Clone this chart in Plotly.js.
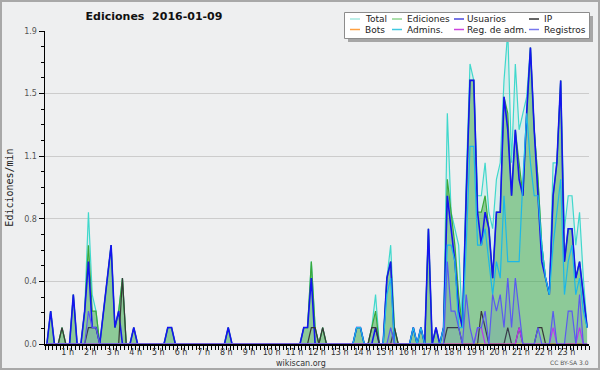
<!DOCTYPE html>
<html><head><meta charset="utf-8">
<script src="https://cdn.plot.ly/plotly-3.0.1.min.js"></script>
<style>html,body{margin:0;padding:0;background:#eeeff0}</style>
</head><body><div id="chart" style="width:600px;height:370px"></div>
<script>
// 10-minute bins, values in edits per minute (one row = one hour)
const total = [
0,0.2,0,0,0.1,0,  0,0.3,0,0,0.2,0.8,  0.3,0.2,0,0.2,0.4,0.6,  0.1,0.2,0.4,0,0,0.1,
0,0,0,0,0,0,  0,0,0.1,0.1,0,0,  0,0,0,0,0,0,  0,0,0,0,0,0,
0.1,0,0,0,0,0,  0,0,0,0,0,0,  0,0,0,0,0,0,  0,0,0.1,0.1,0.5,0.1,
0,0.1,0,0,0,0,  0,0,0,0,0.1,0.1,  0,0,0.1,0.3,0,0,  0.4,0.6,0.1,0,0,0,
0,0.1,0,0.1,0,0.7,  0,0.1,0,0.1,1.4,0.8,  0.7,0.6,0.1,1.0,1.7,1.6,  0.9,0.9,1.1,0.8,0.7,1.0,
1.1,1.6,1.9,1.1,1.7,1.3,  1.4,1.5,1.8,1.3,1.0,0.6,  0.4,0.3,1.1,1.1,1.6,0.7,  0.9,0.9,0.6,0.8,0.4,0.1
];
const ediciones = [
0,0.2,0,0,0.1,0,  0,0.3,0,0,0.2,0.6,  0.2,0.2,0,0.2,0.4,0.6,  0.1,0.2,0.4,0,0,0.1,
0,0,0,0,0,0,  0,0,0.1,0.1,0,0,  0,0,0,0,0,0,  0,0,0,0,0,0,
0.1,0,0,0,0,0,  0,0,0,0,0,0,  0,0,0,0,0,0,  0,0,0.1,0.1,0.5,0.1,
0,0.1,0,0,0,0,  0,0,0,0,0.1,0.1,  0,0,0.1,0.2,0,0,  0.4,0.5,0.1,0,0,0,
0,0.1,0,0.1,0,0.7,  0,0.1,0,0.1,1.0,0.8,  0.6,0.3,0.1,0.9,1.6,1.6,  0.8,0.8,0.9,0.7,0.4,0.8,
0.8,1.5,1.4,0.9,1.3,1.1,  0.9,1.4,1.8,1.3,1.0,0.6,  0.4,0.3,0.9,1.1,1.6,0.5,  0.7,0.7,0.4,0.5,0.3,0.1
];
const usuarios = [
0,0.2,0,0,0,0,  0,0.3,0,0,0.2,0.5,  0.1,0.1,0,0.2,0.4,0.6,  0.1,0.2,0,0,0,0.1,
0,0,0,0,0,0,  0,0,0.1,0.1,0,0,  0,0,0,0,0,0,  0,0,0,0,0,0,
0.1,0,0,0,0,0,  0,0,0,0,0,0,  0,0,0,0,0,0,  0,0,0.1,0.1,0.4,0,
0,0,0,0,0,0,  0,0,0,0,0.1,0.1,  0,0,0,0.1,0,0,  0.4,0.5,0,0,0,0,
0,0.1,0,0.1,0,0.7,  0,0.1,0,0.1,0.9,0.7,  0.5,0.2,0.1,0.9,1.6,1.6,  0.8,0.6,0.8,0.7,0.4,0.8,
0.8,1.5,1.3,0.9,1.3,1.0,  0.9,1.4,1.8,1.3,0.9,0.5,  0.4,0.3,0.9,1.1,1.6,0.5,  0.7,0.7,0.4,0.5,0.3,0.1
];
const ip = [
0,0,0,0,0.1,0,  0,0,0,0,0,0.1,  0.1,0.1,0,0,0,0,  0,0,0.4,0,0,0,
0,0,0,0,0,0,  0,0,0,0,0,0,  0,0,0,0,0,0,  0,0,0,0,0,0,
0,0,0,0,0,0,  0,0,0,0,0,0,  0,0,0,0,0,0,  0,0,0,0,0.1,0.1,
0,0.1,0,0,0,0,  0,0,0,0,0,0,  0,0,0.1,0.1,0,0,  0,0,0.1,0,0,0,
0,0,0,0,0,0,  0,0,0,0,0.1,0.1,  0.1,0.1,0,0,0,0,  0,0.2,0.1,0,0,0,
0,0,0.1,0,0,0.1,  0,0,0,0,0.1,0.1,  0,0,0,0,0,0,  0,0,0,0,0,0
];
const bots = [
0,0,0,0,0,0,  0,0,0,0,0,0,  0,0,0,0,0,0,  0,0,0,0,0,0,
0,0,0,0,0,0,  0,0,0,0,0,0,  0,0,0,0,0,0,  0,0,0,0,0,0,
0,0,0,0,0,0,  0,0,0,0,0,0,  0,0,0,0,0,0,  0,0,0,0,0,0,
0,0,0,0,0,0,  0,0,0,0,0,0,  0,0,0,0,0,0,  0,0,0,0,0,0,
0,0,0,0,0,0,  0,0,0,0,0,0,  0,0,0,0,0,0,  0,0,0,0,0,0,
0,0,0,0,0,0,  0,0,0,0,0,0,  0,0,0,0,0,0,  0,0,0,0,0,0
];
const admins = [
0,0,0,0,0,0,  0,0,0,0,0,0,  0,0,0,0,0,0,  0,0,0,0,0,0,
0,0,0,0,0,0,  0,0,0,0,0,0,  0,0,0,0,0,0,  0,0,0,0,0,0,
0,0,0,0,0,0,  0,0,0,0,0,0,  0,0,0,0,0,0,  0,0,0,0,0,0,
0,0,0,0,0,0,  0,0,0,0,0.1,0.1,  0,0,0,0,0,0,  0.3,0.4,0,0,0,0,
0,0.1,0,0.1,0,0,  0,0,0,0.1,0.6,0.6,  0.5,0.1,0.1,0.6,1.2,1.2,  0.6,0.6,0.7,0.5,0.3,0.5,
0.4,0.9,0.5,0.5,0.5,0.5,  1.0,1.4,1.1,0.9,0.9,0.6,  0.4,0.3,0.6,0.8,1.0,0.3,  0.5,0.6,0.3,0.4,0.2,0.1
];
const regAdm = [
0,0,0,0,0,0,  0,0,0,0,0,0,  0,0,0,0,0,0,  0,0,0,0,0,0,
0,0,0,0,0,0,  0,0,0,0,0,0,  0,0,0,0,0,0,  0,0,0,0,0,0,
0,0,0,0,0,0,  0,0,0,0,0,0,  0,0,0,0,0,0,  0,0,0,0,0,0,
0,0,0,0,0,0,  0,0,0,0,0,0,  0,0,0,0,0,0,  0,0,0,0,0,0,
0,0,0,0,0,0,  0,0,0,0,0,0,  0,0,0,0,0,0,  0.1,0.1,0,0,0,0,
0,0,0,0,0,0.1,  0,0,0,0,0,0,  0,0,0.1,0,0,0,  0,0,0,0.1,0,0
];
const registros = [
0,0,0,0,0,0,  0,0,0,0,0,0.2,  0.1,0.1,0,0,0,0,  0,0,0,0,0,0,
0,0,0,0,0,0,  0,0,0,0,0,0,  0,0,0,0,0,0,  0,0,0,0,0,0,
0,0,0,0,0,0,  0,0,0,0,0,0,  0,0,0,0,0,0,  0,0,0,0,0,0,
0,0,0,0,0,0,  0,0,0,0,0,0,  0,0,0,0,0,0,  0,0.1,0,0,0,0,
0,0,0,0,0,0,  0,0,0,0,0.5,0.2,  0.2,0.1,0,0.3,0.1,0,  0.1,0.1,0.2,0,0.3,0.2,
0.3,0.1,0.4,0.1,0.4,0.2,  0,0,0,0,0.1,0,  0,0,0.2,0,0,0,  0.2,0.2,0,0.3,0,0
];
const seriesNames = ['Total','Ediciones','Usuarios','IP','Bots','Admins.','Reg. de adm.','Registros'];
const hourLabels = ['1 h','2 h','3 h','4 h','5 h','6 h','7 h','8 h','9 h','10 h','11 h','12 h',
  '13 h','14 h','15 h','16 h','17 h','18 h','19 h','20 h','21 h','22 h','23 h'];
const yTickVals = [0, 0.38, 0.76, 1.14, 1.52, 1.9];
const yTickText = ['0.0','0.4','0.8','1.1','1.5','1.9'];

// bin centres in minutes since midnight
const minutes = total.map((_, k) => k * 10 + 5);

const W = 600, H = 370, L = 45, R = 11, T = 31, B = 26;
const PX = px => (px - L) / (W - L - R);
const PY = py => (H - B - py) / (H - T - B);

const lineColors = ['#40d8cc','#3aa83a','#1414f0','#383838','#ff9933','#1cb8e8','#cc33ee','#5a5af0'];
const legendColors = ['#a6e8e0','#8fd48f','#4848dd','#333333','#ffa040','#40c8e0','#cc44dd','#7878ee'];
const fills = {
  'Total': 'rgba(64,224,208,0.13)',
  'Ediciones': 'rgba(50,160,50,0.45)',
  'Registros': 'rgba(70,90,220,0.12)'
};
const widths = {'Usuarios': 1.6};
const ys = [total, ediciones, usuarios, ip, bots, admins, regAdm, registros];

const data = seriesNames.map((n, i) => {
  const t = {
    type: 'scatter', mode: 'lines', name: n, x: minutes, y: ys[i],
    line: {color: lineColors[i], width: widths[n] || 1.2},
    showlegend: false, hoverinfo: 'skip'
  };
  if (fills[n]) { t.fill = 'tozeroy'; t.fillcolor = fills[n]; }
  return t;
});

const minorY = [];
for (let v = 0.095; v < 1.9; v += 0.095) {
  if (!yTickVals.some(t => Math.abs(t - v) < 1e-6)) minorY.push(+v.toFixed(3));
}

const shapes = [
  // outer frame
  {type:'rect', xref:'paper', yref:'paper', x0:PX(1), x1:PX(599), y0:PY(369), y1:PY(1),
   line:{color:'#a8a8a8', width:2}, fillcolor:'rgba(0,0,0,0)', layer:'above'},
  // legend shadow + box
  {type:'rect', xref:'paper', yref:'paper', x0:PX(348), x1:PX(593), y0:PY(42), y1:PY(16),
   line:{width:0}, fillcolor:'#a6a6a6', layer:'above'},
  {type:'rect', xref:'paper', yref:'paper', x0:PX(344.5), x1:PX(589.5), y0:PY(38.5), y1:PY(12.5),
   line:{color:'#8c8c8c', width:1}, fillcolor:'#ffffff', layer:'above'}
];
const annotations = [
  {text:'wikiscan.org', xref:'paper', yref:'paper', x:PX(300.5), y:PY(363), showarrow:false,
   xanchor:'center', yanchor:'middle', borderpad:0, font:{family:'DejaVu Sans', size:8, color:'#333'}},
  {text:'CC BY-SA 3.0', xref:'paper', yref:'paper', x:PX(569), y:PY(362.5), showarrow:false,
   xanchor:'center', yanchor:'middle', borderpad:0, font:{family:'DejaVu Sans', size:6, color:'#555'}}
];
const colSample = [350, 392, 454, 529];
const colText = [365, 407, 467, 544];
const rowY = [19, 29.5];
seriesNames.forEach((n, i) => {
  const c = i % 4, r = Math.floor(i / 4);
  shapes.push({type:'line', xref:'paper', yref:'paper', x0:PX(colSample[c]), x1:PX(colSample[c] + 10),
    y0:PY(rowY[r]), y1:PY(rowY[r]), line:{color:legendColors[i], width:1.5}, layer:'above'});
  annotations.push({text:n, xref:'paper', yref:'paper', x:PX(colText[c]), y:PY(rowY[r]), showarrow:false,
    xanchor:'left', yanchor:'middle', borderpad:0, borderwidth:0,
    font:{family:'DejaVu Sans', size:9, color:'#222'}});
});

const layout = {
  width: W, height: H,
  margin: {l: L, r: R, t: T, b: B, pad: 0},
  paper_bgcolor: '#eeeff0', plot_bgcolor: '#eeeff0',
  showlegend: false,
  hovermode: false,
  title: {text: 'Ediciones  2016-01-09', x: 154 / W, xref: 'container', xanchor: 'center',
    y: 1 - 16.5 / H, yref: 'container', yanchor: 'middle',
    font: {family: 'DejaVu Sans', size: 11, weight: 'bold', color: '#111'}},
  xaxis: {
    range: [0, 1440], fixedrange: true,
    tickmode: 'array', tickvals: hourLabels.map((_, i) => (i + 1) * 60), ticktext: hourLabels,
    ticks: 'outside', ticklen: 4, tickwidth: 1, tickcolor: '#000',
    minor: {tickmode: 'linear', tick0: 0, dtick: 10, ticks: 'outside', ticklen: 4, tickwidth: 1, tickcolor: '#000', showgrid: false},
    showline: true, linecolor: '#000', linewidth: 2,
    showgrid: false, zeroline: false,
    tickfont: {family: 'DejaVu Sans', size: 8, color: '#333'},
    ticklabelstandoff: -5
  },
  yaxis: {
    range: [0, 1.9], fixedrange: true,
    tickmode: 'array', tickvals: yTickVals, ticktext: yTickText,
    ticks: 'outside', ticklen: 5, tickwidth: 1, tickcolor: '#000',
    minor: {tickmode: 'array', tickvals: minorY, ticks: 'outside', ticklen: 3, tickwidth: 1, tickcolor: '#000', showgrid: false},
    showline: true, linecolor: '#000', linewidth: 1.5,
    showgrid: true, gridcolor: '#cccccc', gridwidth: 1, zeroline: false,
    tickfont: {family: 'DejaVu Sans', size: 8, color: '#555'},
    title: {text: 'Ediciones/min', standoff: 8, font: {family: 'DejaVu Sans Mono', size: 10, color: '#222'}}
  },
  shapes: shapes,
  annotations: annotations
};

Plotly.newPlot('chart', data, layout, {displayModeBar: false, staticPlot: true});
</script>
</body></html>
